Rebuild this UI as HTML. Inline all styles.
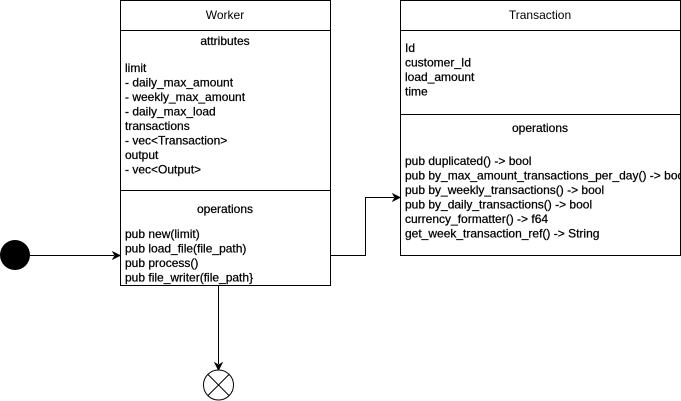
<!DOCTYPE html>
<html><head><meta charset="utf-8"><style>
html,body{margin:0;padding:0;background:#fff;}
svg{display:block;}
text{font-family:"Liberation Sans",Arial,sans-serif;font-size:12px;fill:#000;}
.b{stroke:#000;stroke-width:0.25;}
</style></head><body>
<svg width="681" height="401" viewBox="0 0 681 401" xmlns="http://www.w3.org/2000/svg">
<defs>
<clipPath id="c"><rect x="400" y="0" width="280" height="256"/></clipPath>
</defs>
<g fill="#fff" stroke="#000" stroke-width="1">
<rect x="120.5" y="0.5" width="210" height="285"/>
<line x1="120.5" y1="30.5" x2="330.5" y2="30.5"/>
<line x1="120.5" y1="190.5" x2="330.5" y2="190.5"/>
<rect x="400.5" y="0.5" width="280" height="255"/>
<line x1="400.5" y1="30.5" x2="680.5" y2="30.5"/>
<line x1="400.5" y1="114.5" x2="680.5" y2="114.5"/>
</g>
<text x="225" y="19" text-anchor="middle">Worker</text>
<g class="b">
<text x="225" y="45" text-anchor="middle">attributes</text>
<text x="125" y="72">limit</text>
<text x="125" y="86.5">- daily_max_amount</text>
<text x="125" y="101">- weekly_max_amount</text>
<text x="125" y="115.5">- daily_max_load</text>
<text x="125" y="130">transactions</text>
<text x="125" y="144.5">- vec&lt;Transaction&gt;</text>
<text x="125" y="159">output</text>
<text x="125" y="173.5">- vec&lt;Output&gt;</text>
<text x="225" y="213" text-anchor="middle">operations</text>
<text x="125" y="238">pub new(limit)</text>
<text x="125" y="252.5">pub load_file(file_path)</text>
<text x="125" y="267">pub process()</text>
<text x="125" y="281.5">pub file_writer(file_path}</text>
</g>
<text x="540" y="19" text-anchor="middle">Transaction</text>
<g class="b">
<text x="405" y="52">Id</text>
<text x="405" y="66.5">customer_Id</text>
<text x="405" y="81">load_amount</text>
<text x="405" y="95.5">time</text>
<text x="540" y="132" text-anchor="middle">operations</text>
<g clip-path="url(#c)">
<text x="405" y="165">pub duplicated() -&gt; bool</text>
<text x="405" y="179.5">pub by_max_amount_transactions_per_day() -&gt; bool</text>
<text x="405" y="194">pub by_weekly_transactions() -&gt; bool</text>
<text x="405" y="208.5">pub by_daily_transactions() -&gt; bool</text>
<text x="405" y="223">currency_formatter() -&gt; f64</text>
<text x="405" y="237.5">get_week_transaction_ref() -&gt; String</text>
</g>
</g>

<circle cx="15" cy="255" r="15" fill="#000"/>
<line x1="30" y1="255.5" x2="114" y2="255.5" stroke="#000"/>
<path d="M120,255.5 L113,252 L115,255.5 L113,259 Z" fill="#000" stroke="#000"/>

<polyline points="330,255.5 365.5,255.5 365.5,197.5 394,197.5" fill="none" stroke="#000"/>
<path d="M400,197.5 L393,194 L395,197.5 L393,201 Z" fill="#000" stroke="#000"/>

<line x1="218.5" y1="286" x2="218.5" y2="364" stroke="#000"/>
<path d="M218.5,370 L215,363 L218.5,365 L222,363 Z" fill="#000" stroke="#000"/>
<circle cx="218.5" cy="385" r="15" fill="#fff" stroke="#000"/>
<line x1="207.9" y1="374.4" x2="229.1" y2="395.6" stroke="#000"/>
<line x1="229.1" y1="374.4" x2="207.9" y2="395.6" stroke="#000"/>
</svg>
</body></html>
